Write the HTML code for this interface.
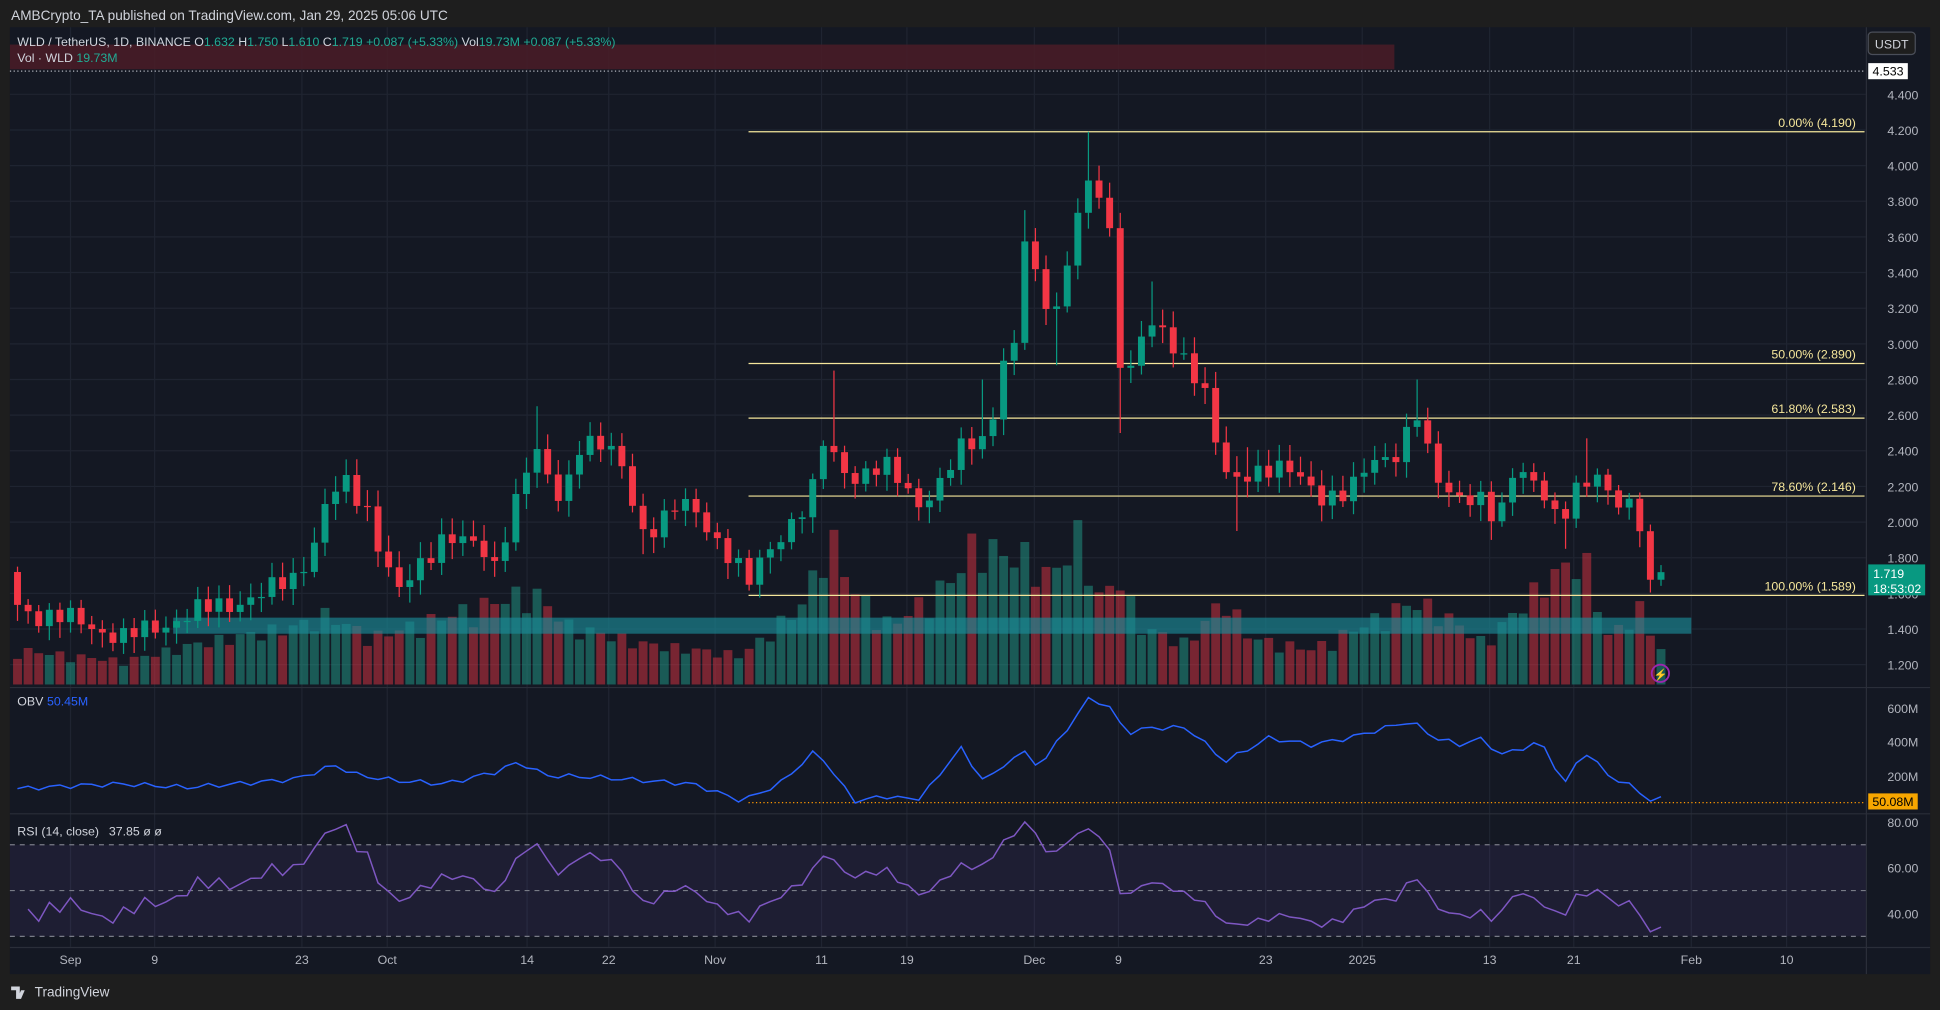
<!DOCTYPE html>
<html><head><meta charset="utf-8"><style>
html,body{margin:0;padding:0;background:#1e1e1e;overflow:hidden}
svg{display:block}
text{font-family:"Liberation Sans",sans-serif}
</style></head><body>
<svg id="s" width="1940" height="1010" viewBox="0 0 1568 816" preserveAspectRatio="none" xmlns="http://www.w3.org/2000/svg"></svg>
<script>
const S=document.getElementById('s');let h='';
function R(x,y,w,hh,f,o){h+=`<rect x="${x}" y="${y}" width="${w}" height="${hh}" fill="${f}"${o!=null?` fill-opacity="${o}"`:''}/>`;}
function L(x1,y1,x2,y2,c,w,d){h+=`<line x1="${x1}" y1="${y1}" x2="${x2}" y2="${y2}" stroke="${c}" stroke-width="${w||1}"${d?` stroke-dasharray="${d}"`:''}/>`;}
function T(x,y,t,c,s,a){h+=`<text x="${x}" y="${y}" fill="${c}" font-size="${s||11}"${a?` text-anchor="${a}"`:''}>${t}</text>`;}
R(0,0,1568,816,'#1e1e1e');
R(8,22,1552,765,'#141823');
const PY=p=>105+(4.2-p)*144;
for(let p=1.2;p<=4.41;p+=0.2){L(8,PY(p),1508,PY(p),'#1f2431',1);}
const xs=[57,125,244,313,426,492,578,664,733,836,904,1023,1101,1204,1272,1367,1444];
xs.forEach(x=>L(x,22,x,765,'#1f2431',1));
L(8,555.5,1560,555.5,'#2a2e39');L(8,657.5,1560,657.5,'#2a2e39');L(8,765.5,1560,765.5,'#2a2e39');L(1508.5,22,1508.5,787,'#2a2e39');
T(9,16,'AMBCrypto_TA published on TradingView.com, Jan 29, 2025 05:06 UTC','#d1d4dc',11);
R(8,36,1119,20,'#4a1c27',0.85);
h+=`<text x="14" y="37" font-size="10" fill="#d1d4dc">WLD / TetherUS, 1D, BINANCE  O<tspan fill="#22ab94">1.632</tspan>  H<tspan fill="#22ab94">1.750</tspan>  L<tspan fill="#22ab94">1.610</tspan>  C<tspan fill="#22ab94">1.719  +0.087 (+5.33%)</tspan>  Vol<tspan fill="#22ab94">19.73M  +0.087 (+5.33%)</tspan></text>`;
h+=`<text x="14" y="50" font-size="10" fill="#d1d4dc">Vol · WLD  <tspan fill="#22ab94">19.73M</tspan></text>`;
L(8,57.5,1508,57.5,'#b2b5be',1,'1,2');
const kp=[[10,1.55],[30,1.48],[60,1.45],[100,1.35],[130,1.42],[160,1.5],[190,1.55],[215,1.6],[240,1.7],[258,1.95],[265,2.15],[280,2.2],[300,2.05],[305,1.9],[322,1.6],[335,1.7],[350,1.85],[360,1.95],[385,1.85],[400,1.75],[410,2.0],[425,2.3],[432,2.4],[445,2.2],[455,2.1],[466,2.45],[480,2.45],[500,2.35],[520,1.95],[535,2.0],[550,2.1],[565,2.05],[580,1.9],[605,1.65],[620,1.85],[640,2.0],[655,2.1],[665,2.45],[690,2.25],[720,2.3],[745,2.1],[760,2.2],[780,2.45],[800,2.5],[810,2.9],[820,2.95],[828,3.6],[840,3.3],[855,3.2],[870,3.7],[882,3.9],[895,3.8],[904,2.95],[915,2.85],[925,3.1],[940,3.05],[955,2.95],[965,2.85],[975,2.7],[985,2.35],[995,2.2],[1010,2.3],[1030,2.3],[1050,2.25],[1070,2.15],[1090,2.15],[1110,2.35],[1130,2.4],[1145,2.6],[1155,2.35],[1165,2.2],[1185,2.15],[1200,2.1],[1210,1.95],[1225,2.35],[1245,2.2],[1260,1.95],[1275,2.2],[1290,2.3],[1305,2.1],[1320,2.05],[1328,1.95],[1334,1.65],[1342,1.72]];
function interp(k,x){if(x<=k[0][0])return k[0][1];for(let i=1;i<k.length;i++){if(x<=k[i][0]){const a=k[i-1],b=k[i];return a[1]+(b[1]-a[1])*(x-a[0])/(b[0]-a[0]);}}return k[k.length-1][1];}
const vk=[[10,30],[100,20],[160,35],[240,50],[265,60],[300,40],[430,80],[460,50],[520,35],[600,25],[650,70],[670,130],[690,80],[720,50],[770,90],[790,125],[810,110],[830,110],[850,90],[870,130],[890,70],[905,95],[920,50],[960,35],[990,75],[1010,40],[1060,30],[1140,70],[1160,65],[1200,35],[1250,90],[1280,110],[1300,40],[1325,65],[1342,30]];
const C=[],X=[];
for(let d=0;d<156;d++){const x=57+(d-5)*8.57;X.push(x);let c=interp(kp,x)+0.045*Math.sin(d*2.7)+0.03*Math.sin(d*5.3);if(d==155)c=1.719;C.push(c);}
const hiO=[[880,4.19],[432,2.65],[673,2.85],[1145,2.8],[1283,2.47],[832,3.75],[790,2.8],[930,3.35],[1005,2.42],[475,2.55]];
const loO=[[904,2.5],[1000,1.95],[1268,1.85],[855,2.88],[522,1.82],[750,2.05],[1205,1.9]];
function near(list,x){for(const a of list){if(Math.abs(a[0]-x)<4.3)return a[1];}return null;}
for(let d=0;d<156;d++){const up=d==0?false:C[d]>=C[d-1];let v=interp(vk,X[d])*(0.7+0.35*Math.abs(Math.sin(d*1.9)));R(X[d]-3.6,553-v,7.2,v,up?'#22ab94':'#f23645',0.45);}
R(140,499,1227,13,'#1a8a96',0.65);
[[4.19,'0.00% (4.190)'],[2.89,'50.00% (2.890)'],[2.583,'61.80% (2.583)'],[2.146,'78.60% (2.146)'],[1.589,'100.00% (1.589)']].forEach(f=>{const y=PY(f[0]);L(605,y,1507,y,'#f5e69b',1);T(1500,y-4,f[1],'#f5e69b',10,'end');});
for(let d=0;d<156;d++){const o=d==0?1.72:C[d-1],c=C[d];const up=c>=o;const col=up?'#089981':'#f23645';let hi=Math.max(o,c)+0.03+0.06*Math.abs(Math.sin(d*3.1)),lo=Math.min(o,c)-0.03-0.06*Math.abs(Math.cos(d*2.3));const ho=near(hiO,X[d]);if(ho)hi=Math.max(hi,ho);const lw=near(loO,X[d]);if(lw)lo=Math.min(lo,lw);L(X[d],PY(hi),X[d],PY(lo),col,1);const y1=PY(Math.max(o,c)),y2=PY(Math.min(o,c));R(X[d]-2.8,y1,5.6,Math.max(1,y2-y1),col);}
for(let p=1.2;p<=4.41;p+=0.2){T(1538,PY(p)+4,p.toFixed(3),'#b2b5be',10,'middle');}
R(1510,26,38,18,'#1e1e1e');h+=`<rect x="1510" y="26" width="38" height="18" rx="3" fill="none" stroke="#4a4e59"/>`;T(1529,39,'USDT','#d1d4dc',10,'middle');
R(1510,51,32,13,'#ffffff');T(1526,61,'4.533','#000',10,'middle');
R(1510,456,46,25,'#089981');T(1514,467,'1.719','#fff',10);T(1514,479,'18:53:02','#fff',10);
T(14,570,'OBV','#d1d4dc',10);T(38,570,'50.45M','#2962ff',10);
const OY=v=>654-v*0.1375;
[[600,572],[400,599],[200,627]].forEach(a=>T(1538,a[1]+4,a[0]+'M','#b2b5be',10,'middle'));
const ok=[[8,120],[60,140],[100,150],[150,130],[200,155],[240,180],[270,260],[290,200],[320,170],[360,150],[400,220],[420,280],[440,200],[480,190],[520,170],[560,150],[600,50],[630,150],[660,350],[690,50],[720,80],[740,50],[760,200],[775,380],[790,200],[800,180],[825,350],[840,250],[860,450],[880,650],[895,620],[910,450],[930,480],[960,480],[990,280],[1025,420],[1060,380],[1090,420],[1140,520],[1160,420],[1180,380],[1195,420],[1215,320],[1245,400],[1265,150],[1280,350],[1300,200],[1320,130],[1335,50],[1342,60]];
let pts=[];for(let d=0;d<156;d++){let v=interp(ok,X[d])+15*Math.sin(d*2.2);pts.push(X[d].toFixed(1)+','+OY(v).toFixed(1));}
L(605,648.5,1508,648.5,'#ff9800',1,'1,2');
h+=`<polyline points="${pts.join(' ')}" fill="none" stroke="#2962ff" stroke-width="1.2"/>`;
R(1510,641,40,13,'#f7a600');T(1530,651,'50.08M','#000',10,'middle');
const RY=v=>738-(v-40)*1.85;
R(8,RY(70),1500,RY(30)-RY(70),'#7e57c2',0.1);
[70,50,30].forEach(v=>L(8,RY(v),1508,RY(v),'#787b86',1,'4,4'));
T(14,675,'RSI (14, close)','#d1d4dc',10);T(88,675,'37.85  ø  ø','#d1d4dc',10);
[[80,664],[60,701],[40,738]].forEach(a=>T(1538,a[1]+4,a[0].toFixed(2),'#b2b5be',10,'middle'));
let ag=0.02,al=0.025,rp=[];for(let d=1;d<156;d++){const ch=C[d]-C[d-1];const g=Math.max(ch,0),l=Math.max(-ch,0);ag=(ag*13+g)/14;al=(al*13+l)/14;const rsi=al==0?100:100-100/(1+ag/al);rp.push(X[d].toFixed(1)+','+RY(Math.max(25,Math.min(80,rsi))).toFixed(1));}
h+=`<polyline points="${rp.join(' ')}" fill="none" stroke="#7e57c2" stroke-width="1.2"/>`;
const tl=['Sep','9','23','Oct','14','22','Nov','11','19','Dec','9','23','2025','13','21','Feb','10'];
xs.forEach((x,i)=>T(x,779,tl[i],'#b2b5be',10,'middle'));
T(28,805,'TradingView','#d1d4dc',11);
h+=`<path d="M9 797h7v10h-3v-7h-4zM17 800l3 0-3 7h-3z" fill="#d1d4dc"/>`;
h+=`<circle cx="1342" cy="544" r="7" fill="none" stroke="#9c27b0" stroke-width="1.5"/><text x="1342" y="548" fill="#9c27b0" font-size="9" text-anchor="middle">⚡</text>`;
S.innerHTML=h;
</script>
</body></html>
